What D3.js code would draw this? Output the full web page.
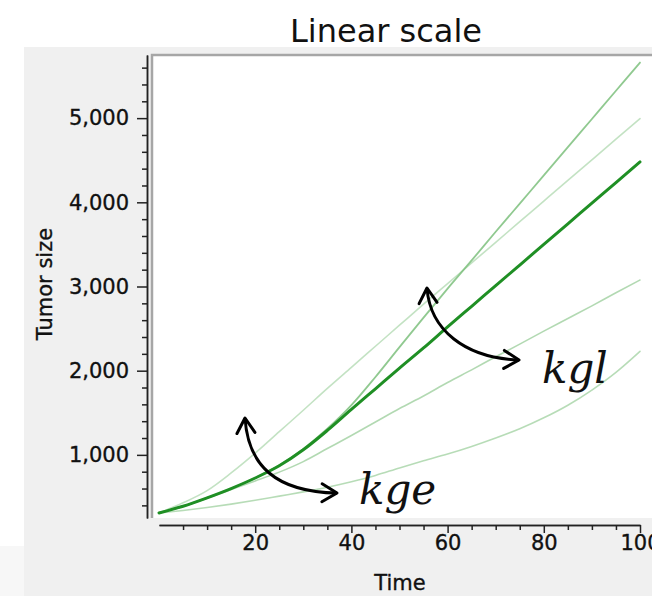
<!DOCTYPE html>
<html>
<head>
<meta charset="utf-8">
<script src="https://cdn.jsdelivr.net/npm/d3@7"></script>
<style>
  body { margin: 0; background: #fff; }
  svg { display: block; }
</style>
</head>
<body>
<svg id="canvas" width="652" height="596"></svg>
<script>
"use strict";

// Time points (x) and tumor size for each simulated profile
var time = [0, 5, 10, 15, 20, 25, 30, 35, 40, 45, 50, 55, 60, 65, 70, 75, 80, 85, 90, 95, 100];
var reference = [310, 390, 490, 600, 725, 870, 1060, 1290, 1540, 1785, 2030, 2270, 2520, 2765, 3010, 3255, 3500, 3745, 3990, 4235, 4480];
var kglHigh = [310, 390, 490, 600, 725, 875, 1070, 1310, 1590, 1925, 2280, 2630, 2975, 3310, 3650, 3985, 4320, 4655, 4990, 5325, 5660];
var kglLow = [310, 390, 485, 590, 690, 795, 920, 1075, 1230, 1390, 1550, 1700, 1860, 2010, 2165, 2315, 2470, 2620, 2770, 2925, 3077];
var kgeHigh = [310, 430, 575, 785, 1020, 1275, 1530, 1790, 2040, 2290, 2540, 2790, 3035, 3280, 3525, 3770, 4015, 4260, 4505, 4750, 4995];
var kgeLow = [310, 340, 375, 415, 460, 510, 560, 615, 680, 755, 845, 930, 1010, 1100, 1200, 1310, 1440, 1590, 1770, 1980, 2230];

var xMajor = [20, 40, 60, 80, 100];
var xMinor = [5, 10, 15, 25, 30, 35, 45, 50, 55, 65, 70, 75, 85, 90, 95];
var yMajor = [1000, 2000, 3000, 4000, 5000];
var yMinor = d3.range(400, 5700, 200).filter(function(v) { return v % 1000 !== 0; });

var FONT = "'DejaVu Sans', Verdana, sans-serif";
var svg = d3.select("#canvas");

var x = d3.scaleLinear().domain([0, 100]).range([159, 640]);
var y = d3.scaleLinear().domain([250, 5750]).range([518, 55]);

// Background panels
svg.append("rect").attr("x", 0).attr("y", 546).attr("width", 24).attr("height", 50).attr("fill", "#f7f7f7");
svg.append("rect").attr("x", 24).attr("y", 47).attr("width", 628).attr("height", 549).attr("fill", "#f0f0f0");
svg.append("rect").attr("x", 152).attr("y", 55).attr("width", 500).attr("height", 463).attr("fill", "#fff");
svg.append("path")
    .attr("d", "M152,518 L152,55 L652,55")
    .attr("fill", "none")
    .attr("stroke", "#a6a6a6")
    .attr("stroke-width", 2.5);

svg.append("clipPath").attr("id", "plotClip")
    .append("rect").attr("x", 153).attr("y", 56).attr("width", 499).attr("height", 462);

// Title
svg.append("text")
    .attr("x", 386).attr("y", 42)
    .attr("text-anchor", "middle")
    .attr("font-family", FONT)
    .attr("font-size", "32px")
    .attr("fill", "#111")
    .text("Linear scale");

// Axes
function styleAxis(g) {
    g.selectAll("path.domain").attr("stroke", "#222").attr("stroke-width", 1.5);
    g.selectAll(".tick line").attr("stroke", "#222").attr("stroke-width", 1.5);
    g.selectAll(".tick text")
        .attr("font-family", FONT).attr("font-size", "21px")
        .attr("fill", "#111").attr("stroke", "#111").attr("stroke-width", 0.35);
}

var yAxis = svg.append("g").attr("transform", "translate(147,0)")
    .call(d3.axisLeft(y).tickValues(yMajor).tickSize(10).tickSizeOuter(0).tickPadding(8).tickFormat(d3.format(",")));
styleAxis(yAxis);
var yAxisMinor = svg.append("g").attr("transform", "translate(147,0)")
    .call(d3.axisLeft(y).tickValues(yMinor).tickSize(5).tickSizeOuter(0).tickFormat(""));
styleAxis(yAxisMinor);

var xAxis = svg.append("g").attr("transform", "translate(0,525)")
    .call(d3.axisBottom(x).tickValues(xMajor).tickSize(8).tickSizeOuter(0).tickPadding(2));
styleAxis(xAxis);
var xAxisMinor = svg.append("g").attr("transform", "translate(0,525)")
    .call(d3.axisBottom(x).tickValues(xMinor).tickSize(5).tickSizeOuter(0).tickFormat(""));
styleAxis(xAxisMinor);

svg.append("text")
    .attr("x", 400).attr("y", 590)
    .attr("text-anchor", "middle")
    .attr("font-family", FONT).attr("font-size", "21px")
    .attr("fill", "#111").attr("stroke", "#111").attr("stroke-width", 0.35)
    .text("Time");

svg.append("text")
    .attr("transform", "translate(52,284) rotate(-90)")
    .attr("text-anchor", "middle")
    .attr("font-family", FONT).attr("font-size", "21px")
    .attr("fill", "#111").attr("stroke", "#111").attr("stroke-width", 0.35)
    .text("Tumor size");

// Curves
var series = [
    { values: kgeLow, color: "#9fd09f", width: 1.6, opacity: 0.75 },
    { values: kglLow, color: "#9fd09f", width: 1.6, opacity: 0.8 },
    { values: kgeHigh, color: "#a9d6a9", width: 1.6, opacity: 0.7 },
    { values: kglHigh, color: "#7cc07c", width: 1.8, opacity: 0.85 },
    { values: reference, color: "#1f8f24", width: 3, opacity: 1 }
];

var line = d3.line()
    .x(function(d, i) { return x(time[i]); })
    .y(function(d) { return y(d); })
    .curve(d3.curveMonotoneX);

svg.append("g").attr("clip-path", "url(#plotClip)")
    .selectAll("path")
    .data(series)
    .enter().append("path")
    .attr("d", function(s) { return line(s.values); })
    .attr("fill", "none")
    .attr("stroke", function(s) { return s.color; })
    .attr("stroke-width", function(s) { return s.width; })
    .attr("stroke-opacity", function(s) { return s.opacity; })
    .attr("stroke-linecap", "round");

// Annotation arrows
var defs = svg.append("defs");
defs.append("marker")
    .attr("id", "chev")
    .attr("markerUnits", "userSpaceOnUse")
    .attr("viewBox", "-20 -12 24 24")
    .attr("refX", 0).attr("refY", 0)
    .attr("markerWidth", 24).attr("markerHeight", 24)
    .attr("orient", "auto-start-reverse")
    .append("path")
    .attr("d", "M-15,-9 L0,0 L-15,9")
    .attr("fill", "none")
    .attr("stroke", "#000")
    .attr("stroke-width", 3)
    .attr("stroke-linecap", "round")
    .attr("stroke-linejoin", "round");

var arrows = [
    "M245,418 C248,465 275,492 337,493",
    "M427,288 C430,330 465,358 519,360"
];
svg.append("g").selectAll("path")
    .data(arrows)
    .enter().append("path")
    .attr("d", function(d) { return d; })
    .attr("fill", "none")
    .attr("stroke", "#000")
    .attr("stroke-width", 3)
    .attr("marker-start", "url(#chev)")
    .attr("marker-end", "url(#chev)");

var labels = [
    { text: "kge", x: 359, y: 504 },
    { text: "kgl", x: 542, y: 383 }
];
svg.append("g").selectAll("text")
    .data(labels)
    .enter().append("text")
    .attr("x", function(d) { return d.x; })
    .attr("y", function(d) { return d.y; })
    .attr("font-family", "'DejaVu Serif', 'Liberation Serif', serif")
    .attr("font-style", "italic")
    .attr("font-size", "42px")
    .attr("fill", "#111")
    .text(function(d) { return d.text; });
</script>
</body>
</html>
